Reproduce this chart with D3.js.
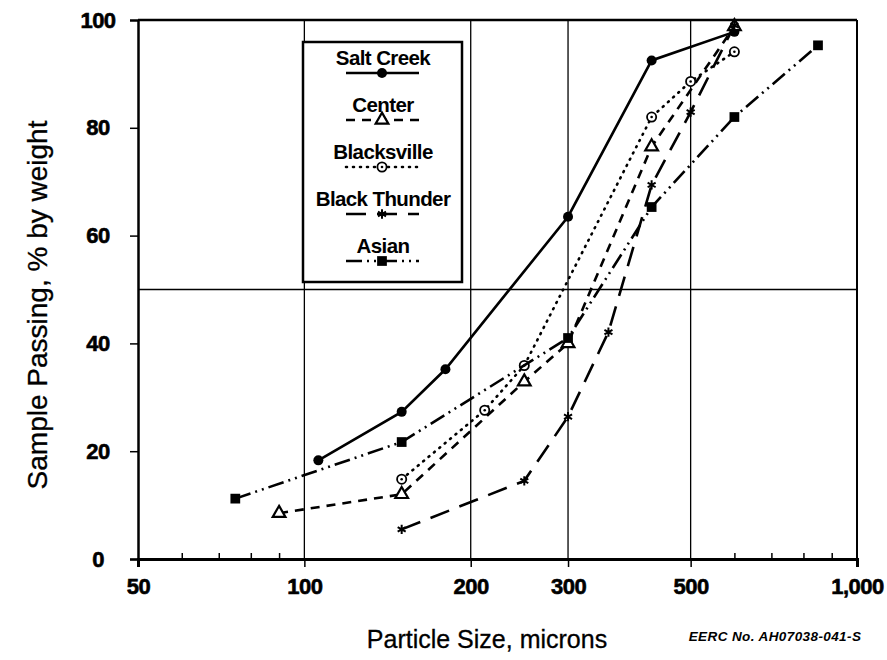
<!DOCTYPE html>
<meta charset="utf-8">
<style>
  body { margin: 0; background: #fff; }
  text { font-family: "Liberation Sans", Arial, sans-serif; fill: #000; }
</style>
<script src="https://d3js.org/d3.v7.min.js"></script>
<body>
<div id="chart"></div>
</body>
<script>
// particle size (microns) and % passing for each coal
var saltCreekSize = [106, 150, 180, 300, 425, 600];
var saltCreekPass = [18.3, 27.3, 35.2, 63.5, 92.5, 97.8];

var centerSize = [90, 150, 250, 300, 425, 600];
var centerPass = [8.5, 12.0, 32.9, 40, 76.5, 98.8];

var blacksvilleSize = [150, 212, 250, 425, 500, 600];
var blacksvillePass = [14.8, 27.6, 35.9, 82.0, 88.6, 94.1];

var blackThunderSize = [150, 250, 300, 355, 425, 500, 600];
var blackThunderPass = [5.5, 14.5, 26.4, 42.1, 69.4, 82.9, 99.0];

var asianSize = [75, 150, 300, 425, 600, 850];
var asianPass = [11.2, 21.7, 41.0, 65.3, 82.0, 95.3];

var seriesNames = ["Salt Creek", "Center", "Blacksville", "Black Thunder", "Asian"];

var xTickMajor = [50, 100, 200, 300, 500, 1000];
var xTickLabels = ["50", "100", "200", "300", "500", "1,000"];
var xTickMinor = [60, 70, 80, 90, 600, 700, 800, 900];
var xGrid = [100, 200, 300, 500];
var yTicks = [0, 20, 40, 60, 80, 100];
var yGrid = [50];

// plot box (window.top is read-only, so use a margin object instead)
var W = 887, H = 660;
var box = {left: 138, right: 857, top: 20, bottom: 559};

var svg = d3.select("#chart").append("svg")
    .attr("width", W)
    .attr("height", H);

var x = d3.scaleLog().domain([50, 1000]).range([box.left, box.right]);
var y = d3.scaleLinear().domain([0, 100]).range([box.bottom, box.top]);

// grid lines
svg.selectAll(".vgrid").data(xGrid).enter().append("line")
    .attr("x1", function(d) { return x(d); }).attr("x2", function(d) { return x(d); })
    .attr("y1", box.top).attr("y2", box.bottom)
    .attr("stroke", "#000").attr("stroke-width", 1.3);
svg.selectAll(".hgrid").data(yGrid).enter().append("line")
    .attr("x1", box.left).attr("x2", box.right)
    .attr("y1", function(d) { return y(d); }).attr("y2", function(d) { return y(d); })
    .attr("stroke", "#000").attr("stroke-width", 1.3);

// frame
svg.append("line").attr("x1", box.left).attr("x2", box.right).attr("y1", box.top).attr("y2", box.top)
    .attr("stroke", "#000").attr("stroke-width", 2.5);
svg.append("line").attr("x1", box.right).attr("x2", box.right).attr("y1", box.top).attr("y2", box.bottom)
    .attr("stroke", "#000").attr("stroke-width", 2);

// axes built with d3 axis generators, then restyled
var xAxis = svg.append("g")
    .attr("transform", "translate(0," + box.bottom + ")")
    .call(d3.axisBottom(x).tickValues(xTickMajor)
      .tickFormat(function(d, i) { return xTickLabels[i]; })
      .tickSize(8).tickPadding(11));
xAxis.select(".domain").attr("stroke-width", 3);
xAxis.selectAll(".tick line").attr("stroke-width", 1.5);
xAxis.selectAll("text")
    .attr("font-size", 22).attr("font-weight", "bold")
    .attr("stroke", "#000").attr("stroke-width", 0.6)
    .attr("letter-spacing", -0.5)
    .style("font-family", "'Liberation Sans', Arial, sans-serif");

svg.append("g")
    .attr("transform", "translate(0," + box.bottom + ")")
    .call(d3.axisTop(x).tickValues(xTickMinor).tickSize(6).tickFormat(""))
    .call(function(g) { g.select(".domain").remove(); })
    .selectAll(".tick line").attr("stroke-width", 1.5);

var yAxis = svg.append("g")
    .attr("transform", "translate(" + box.left + ",0)")
    .call(d3.axisLeft(y).tickValues(yTicks).tickSize(8).tickPadding(18));
yAxis.select(".domain").attr("stroke-width", 2.5);
yAxis.selectAll(".tick line").attr("stroke-width", 1.5);
yAxis.selectAll(".tick").filter(function(d) { return d === 100; }).select("line").remove();
yAxis.selectAll("text")
    .attr("font-size", 22).attr("font-weight", "bold")
    .attr("stroke", "#000").attr("stroke-width", 0.6)
    .attr("letter-spacing", -0.5)
    .attr("text-anchor", "middle").attr("x", -40)
    .style("font-family", "'Liberation Sans', Arial, sans-serif");

// axis titles
svg.append("text")
    .attr("transform", "translate(47,305) rotate(-90)")
    .attr("text-anchor", "middle")
    .attr("font-size", 28)
    .attr("stroke", "#000").attr("stroke-width", 0.3)
    .text("Sample Passing, % by weight");
svg.append("text")
    .attr("x", 487).attr("y", 648)
    .attr("text-anchor", "middle")
    .attr("font-size", 25)
    .attr("stroke", "#000").attr("stroke-width", 0.3)
    .text("Particle Size, microns");
svg.append("text")
    .attr("x", 775).attr("y", 641)
    .attr("text-anchor", "middle")
    .attr("font-size", 13.5)
    .attr("letter-spacing", 0.4)
    .attr("font-weight", "bold").attr("font-style", "italic")
    .text("EERC No. AH07038-041-S");

// series styles
var styles = [
  {dash: null, marker: "dot"},
  {dash: "9,7", marker: "tri"},
  {dash: "1,6", marker: "ring"},
  {dash: "20,11", marker: "star"},
  {dash: "16,5,2,5,2,5", marker: "square"}
];

function pts(sizes, pass) {
  return sizes.map(function(s, i) { return [s, pass[i]]; });
}
var series = [
  pts(saltCreekSize, saltCreekPass),
  pts(centerSize, centerPass),
  pts(blacksvilleSize, blacksvillePass),
  pts(blackThunderSize, blackThunderPass),
  pts(asianSize, asianPass)
];

function drawMarker(g, type, cx, cy) {
  if (type === "dot") {
    g.append("circle").attr("cx", cx).attr("cy", cy).attr("r", 5).attr("fill", "#000");
  } else if (type === "tri") {
    g.append("path").attr("transform", "translate(" + cx + "," + cy + ")")
      .attr("d", d3.symbol(d3.symbolTriangle).size(70)())
      .attr("fill", "#fff").attr("stroke", "#000").attr("stroke-width", 2.2);
  } else if (type === "ring") {
    g.append("circle").attr("cx", cx).attr("cy", cy).attr("r", 4.6)
      .attr("fill", "#fff").attr("stroke", "#000").attr("stroke-width", 1.8);
    g.append("circle").attr("cx", cx).attr("cy", cy).attr("r", 1.3).attr("fill", "#000");
  } else if (type === "star") {
    g.append("path").attr("transform", "translate(" + cx + "," + cy + ")")
      .attr("d", d3.symbol(d3.symbolAsterisk).size(60)())
      .attr("fill", "none").attr("stroke", "#000").attr("stroke-width", 2);
  } else if (type === "square") {
    g.append("path").attr("transform", "translate(" + cx + "," + cy + ")")
      .attr("d", d3.symbol(d3.symbolSquare).size(95)())
      .attr("fill", "#000");
  }
}

var line = d3.line()
    .x(function(d) { return x(d[0]); })
    .y(function(d) { return y(d[1]); });

series.forEach(function(data, i) {
  var g = svg.append("g");
  g.append("path")
    .datum(data)
    .attr("d", line)
    .attr("fill", "none")
    .attr("stroke", "#000")
    .attr("stroke-width", 2.6)
    .attr("stroke-linecap", styles[i].marker === "ring" ? "round" : "butt")
    .attr("stroke-dasharray", styles[i].dash);
  data.forEach(function(d) { drawMarker(g, styles[i].marker, x(d[0]), y(d[1])); });
});

// legend box
var lg = svg.append("g");
lg.append("rect")
    .attr("x", 303).attr("y", 42).attr("width", 159).attr("height", 240)
    .attr("fill", "#fff").attr("stroke", "#000").attr("stroke-width", 2.5);

seriesNames.forEach(function(name, i) {
  var ty = 65 + i * 47;
  lg.append("text")
    .attr("x", 383).attr("y", ty)
    .attr("text-anchor", "middle")
    .attr("font-size", 20.5).attr("font-weight", "bold")
    .attr("letter-spacing", -0.6)
    .text(name);
  lg.append("line")
    .attr("x1", 346).attr("x2", 419).attr("y1", ty + 8).attr("y2", ty + 8)
    .attr("stroke", "#000").attr("stroke-width", 2.6)
    .attr("stroke-linecap", styles[i].marker === "ring" ? "round" : "butt")
    .attr("stroke-dasharray", styles[i].dash);
  drawMarker(lg, styles[i].marker, 382, ty + 8);
});
</script>
